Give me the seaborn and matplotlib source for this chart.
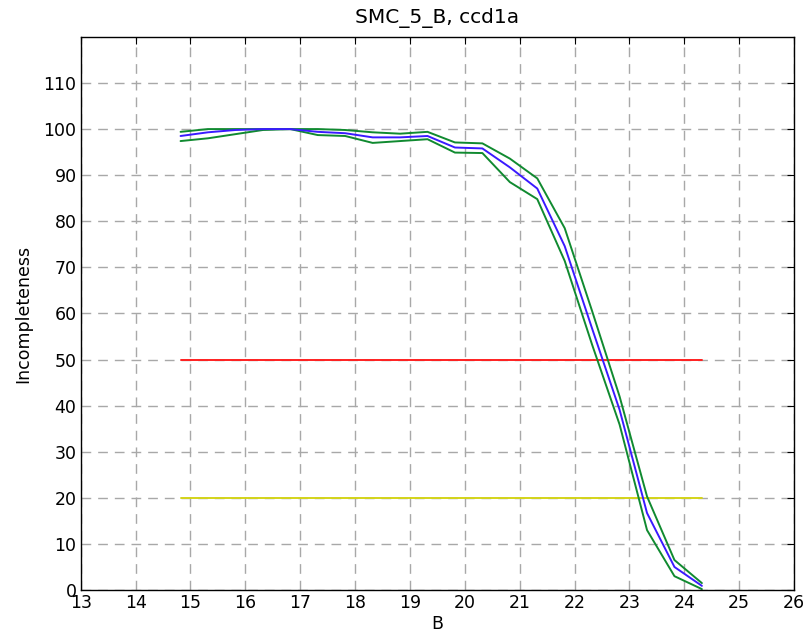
import matplotlib
matplotlib.use("Agg")
import matplotlib.pyplot as plt
import seaborn as sns
import numpy as np
import pandas as pd

# Data
mag = [14.82, 15.32, 15.82, 16.32, 16.82, 17.32, 17.82, 18.32, 18.82, 19.32,
       19.82, 20.32, 20.82, 21.32, 21.82, 22.32, 22.82, 23.32, 23.82, 24.32]
incomp = [98.5, 99.3, 99.8, 100.0, 100.0, 99.4, 99.1, 98.2, 98.2, 98.5,
          96.0, 95.8, 91.7, 87.1, 74.6, 56.7, 39.1, 16.7, 5.0, 0.9]
upper = [99.4, 100.0, 100.0, 100.0, 100.0, 100.0, 99.8, 99.3, 99.0, 99.4,
         97.1, 96.9, 93.6, 89.3, 78.5, 60.5, 42.0, 20.3, 6.5, 1.5]
lower = [97.4, 98.0, 98.9, 99.8, 100.0, 98.7, 98.5, 97.0, 97.4, 97.8,
         94.9, 94.8, 88.5, 84.8, 71.4, 53.2, 35.9, 13.0, 3.0, 0.2]
level50 = [50] * len(mag)
level20 = [20] * len(mag)
xticks = list(range(13, 27))
yticks = list(range(0, 120, 10))

df = pd.DataFrame({"B": mag, "inc": incomp, "up": upper, "lo": lower,
                   "l50": level50, "l20": level20})

sns.set_theme(style="white")
plt.rcParams["font.family"] = ["DejaVu Sans"]
plt.rcParams["text.color"] = "black"
plt.rcParams["axes.labelcolor"] = "black"

fig = plt.figure(figsize=(8.07, 6.36), dpi=100)
ax = fig.add_axes([0.1, 0.0723, 0.884, 0.8697])

lw = 1.4
sns.lineplot(data=df, x="B", y="l50", ax=ax, color="#ff2020", lw=lw)
sns.lineplot(data=df, x="B", y="l20", ax=ax, color="#d4d41a", lw=lw)
sns.lineplot(data=df, x="B", y="up", ax=ax, color="#108a30", lw=lw)
sns.lineplot(data=df, x="B", y="lo", ax=ax, color="#108a30", lw=lw)
sns.lineplot(data=df, x="B", y="inc", ax=ax, color="#3a1aff", lw=lw)

ax.set_xlim(13, 26)
ax.set_ylim(0, 120)
ax.set_xticks(xticks)
ax.set_yticks(yticks)
ax.grid(True, color="#a8a8a8", linestyle=(0, (7, 5)), linewidth=1.0)
ax.set_axisbelow(True)
for s in ax.spines.values():
    s.set_color("black")
    s.set_linewidth(1.0)
ax.tick_params(direction="in", length=5, width=0.8, colors="black",
               top=True, right=True, labelsize=12.5, pad=3)
ax.set_xlabel("B", fontsize=12.5, labelpad=2, color="black")
ax.set_ylabel("Incompleteness", fontsize=12.5, labelpad=8, color="black")
ax.set_title("SMC_5_B, ccd1a", fontsize=14.5, pad=10, color="black")

fig.savefig("out.png", dpi=100)
